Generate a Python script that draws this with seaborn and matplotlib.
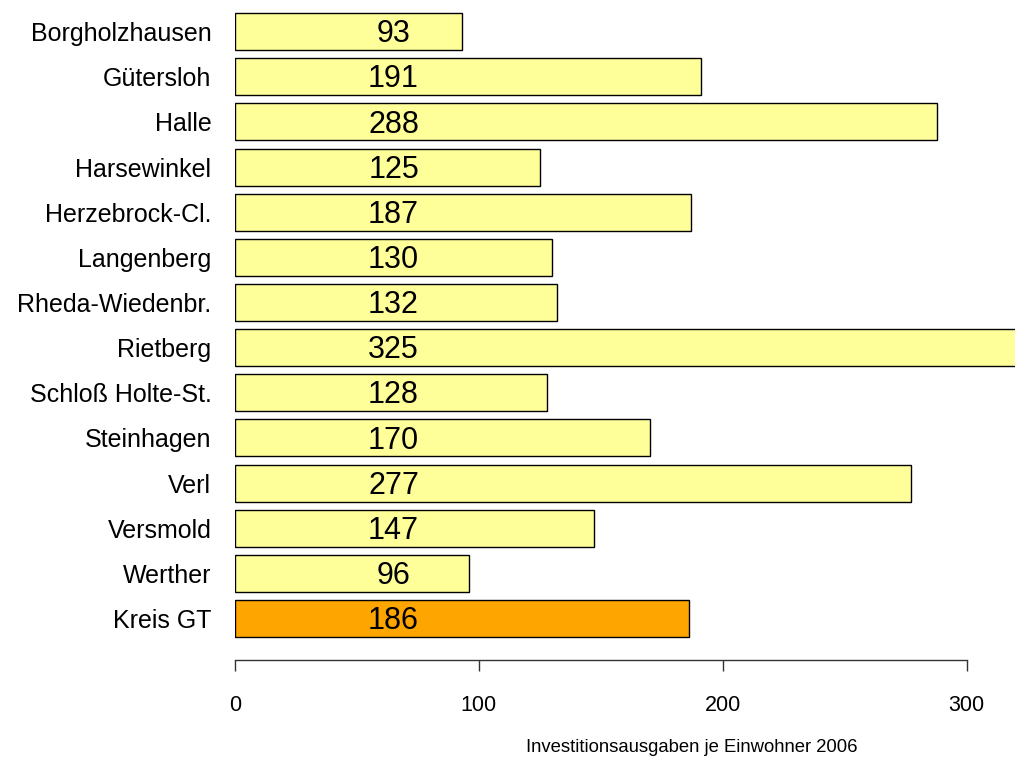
import pandas as pd
import seaborn as sns
import matplotlib.pyplot as plt

# Data
orte = ["Borgholzhausen", "Gütersloh", "Halle", "Harsewinkel", "Herzebrock-Cl.",
        "Langenberg", "Rheda-Wiedenbr.", "Rietberg", "Schloß Holte-St.",
        "Steinhagen", "Verl", "Versmold", "Werther", "Kreis GT"]
werte = [93, 191, 288, 125, 187, 130, 132, 325, 128, 170, 277, 147, 96, 186]
ticks = [0, 100, 200, 300]

df = pd.DataFrame({"ort": orte, "wert": werte})
farben = ["#FFFF99"] * (len(orte) - 1) + ["#FFA500"]

sns.set_theme(style="white")
plt.rcParams["font.family"] = ["Liberation Sans", "DejaVu Sans"]

fig = plt.figure(figsize=(10.15, 7.61), dpi=100)
# axes runs past the right edge so the Rietberg bar gets cut like in the original
px_per_unit = 2.439
xmax = 330
ax = fig.add_axes([235 / 1015, 101 / 761, xmax * px_per_unit / 1015, 660 / 761])

sns.barplot(data=df, x="wert", y="ort", hue="ort", palette=farben, dodge=False,
            legend=False, width=0.82, saturation=1, edgecolor="black", linewidth=1, ax=ax)

# value labels at a fixed position inside the bars
for i, v in enumerate(werte):
    ax.text(65, i + 0.06, str(v), ha="center", va="center", fontsize=22, color="black")

ax.set_xlim(0, xmax)
ax.set_ylim(13.92, -0.7)
ax.set_xticks(ticks)
ax.set_xticklabels([str(t) for t in ticks], fontsize=15.5, color="black")
ax.tick_params(axis="x", direction="out", length=8, width=1, color="#333333", pad=17, bottom=True)
ax.tick_params(axis="y", length=0, pad=17, labelsize=18, labelcolor="black")
ax.set_xlabel("")
ax.set_ylabel("")

for s in ["top", "right", "left"]:
    ax.spines[s].set_visible(False)
ax.spines["bottom"].set_bounds(0, 300)
ax.spines["bottom"].set_color("#333333")
ax.spines["bottom"].set_linewidth(1)

fig.text(692 / 1015, 1 - 747 / 761, "Investitionsausgaben je Einwohner 2006",
         ha="center", va="center", fontsize=13.3, color="black")

fig.savefig("out.png", dpi=100)
